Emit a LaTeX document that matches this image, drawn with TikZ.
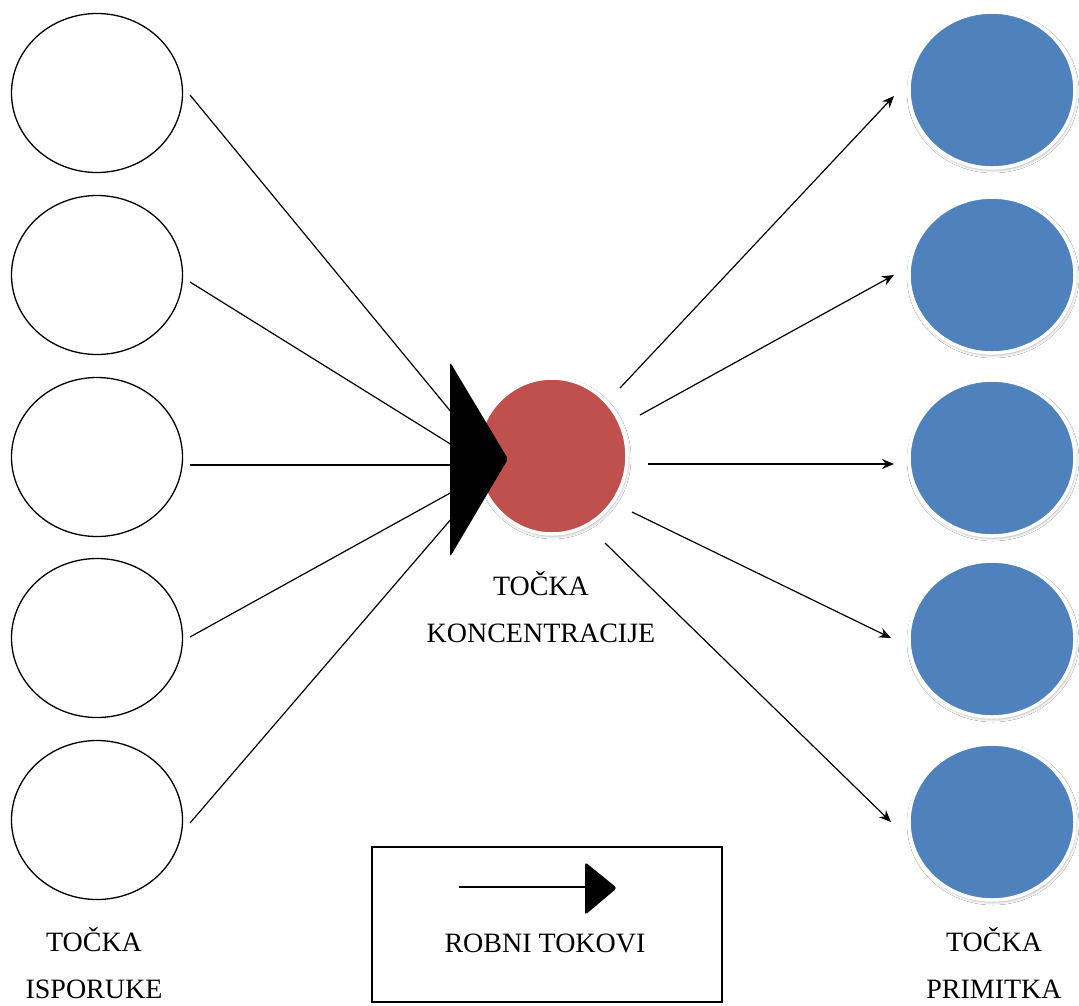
\documentclass[tikz,border=0pt]{standalone}
\usepackage{fontspec}
\setmainfont{Liberation Serif}
\usetikzlibrary{shapes.geometric,arrows.meta,calc,shadows.blur}
\definecolor{redc}{HTML}{C0504D}
\definecolor{bluec}{HTML}{4F81BD}
\begin{document}
\begin{tikzpicture}[x=1pt,y=-1pt,
 src/.style={ellipse,draw=black,line width=1.3pt,minimum width=171pt,minimum height=159pt,inner sep=0pt},
 dst/.style={ellipse,fill=bluec,draw=white,line width=3.5pt,minimum width=166pt,minimum height=156pt,inner sep=0pt,
   blur shadow={shadow xshift=1pt,shadow yshift=-2pt,shadow blur radius=3pt,shadow opacity=35}},
 hub/.style={ellipse,fill=redc,draw=white,line width=3.5pt,minimum width=150pt,minimum height=156pt,inner sep=0pt,
   blur shadow={shadow xshift=1pt,shadow yshift=-2pt,shadow blur radius=3pt,shadow opacity=35}},
 flow/.style={line width=1.2pt},
 flowa/.style={line width=1.2pt,-{Stealth[length=12pt,width=10pt]}},
 headfill/.style={fill=black,rounded corners=3pt},
 lbl/.style={font=\fontsize{28}{47}\selectfont,align=center,inner sep=0pt},
 legendbox/.style={draw=black,line width=1.3pt,minimum width=350pt,minimum height=155pt,inner sep=0pt}]
\useasboundingbox (0,0) rectangle (1079,1005);
\fill[white] (0,0) rectangle (1079,1005);

% source ellipses
\foreach \i/\y in {1/93,2/275,3/457,4/638,5/820}
  \node[src] (l\i) at (97,\y) {};

% destination circles
\foreach \i/\y in {1/90,2/275,3/458,4/639,5/822}
  \node[dst] (r\i) at (992,\y) {};

% hub
\node[hub] (hub) at (552,456) {};

% big arrowhead
\coordinate (ht) at (450,362);
\coordinate (hp) at (508,459);
\coordinate (hb) at (450,557);
\fill[headfill] (ht) -- (hp) -- (hb) -- cycle;

% incoming flows: start points and ends on arrowhead
\coordinate (s1) at (190,95);
\coordinate (s2) at (190,282);
\coordinate (s3) at (190,465);
\coordinate (s4) at (190,637);
\coordinate (s5) at (190,823);
\coordinate (e1) at (452,413);
\coordinate (e2) at (452,445);
\coordinate (e3) at (452,465);
\coordinate (e4) at (452,492);
\coordinate (e5) at (452,518);
\foreach \i in {1,...,5} \draw[flow] (s\i) -- (e\i);

% outgoing flows
\coordinate (o1) at (620,388);
\coordinate (o2) at (640,415);
\coordinate (o3) at (648,464);
\coordinate (o4) at (632,512);
\coordinate (o5) at (605,543);
\coordinate (t1) at (894,96);
\coordinate (t2) at (894,275);
\coordinate (t3) at (894,464);
\coordinate (t4) at (891,638);
\coordinate (t5) at (891,822);
\foreach \i in {1,...,5} \draw[flowa] (o\i) -- (t\i);

% labels
\node[lbl] (hublbl) at (541,607) {TOČKA\\KONCENTRACIJE};
\node[lbl] (srclbl) at (94,963) {TOČKA\\ISPORUKE};
\node[lbl] (dstlbl) at (994,963) {TOČKA\\PRIMITKA};

% legend
\node[legendbox] (legend) at (547,924.5) {};
\coordinate (la) at (459,887);
\coordinate (lb) at (587,887);
\draw[flow] (la) -- (lb);
\fill[headfill] (585,862) -- (617,888) -- (585,915) -- cycle;
\node[lbl] (leglbl) at (545,943) {ROBNI TOKOVI};
\end{tikzpicture}
\end{document}
